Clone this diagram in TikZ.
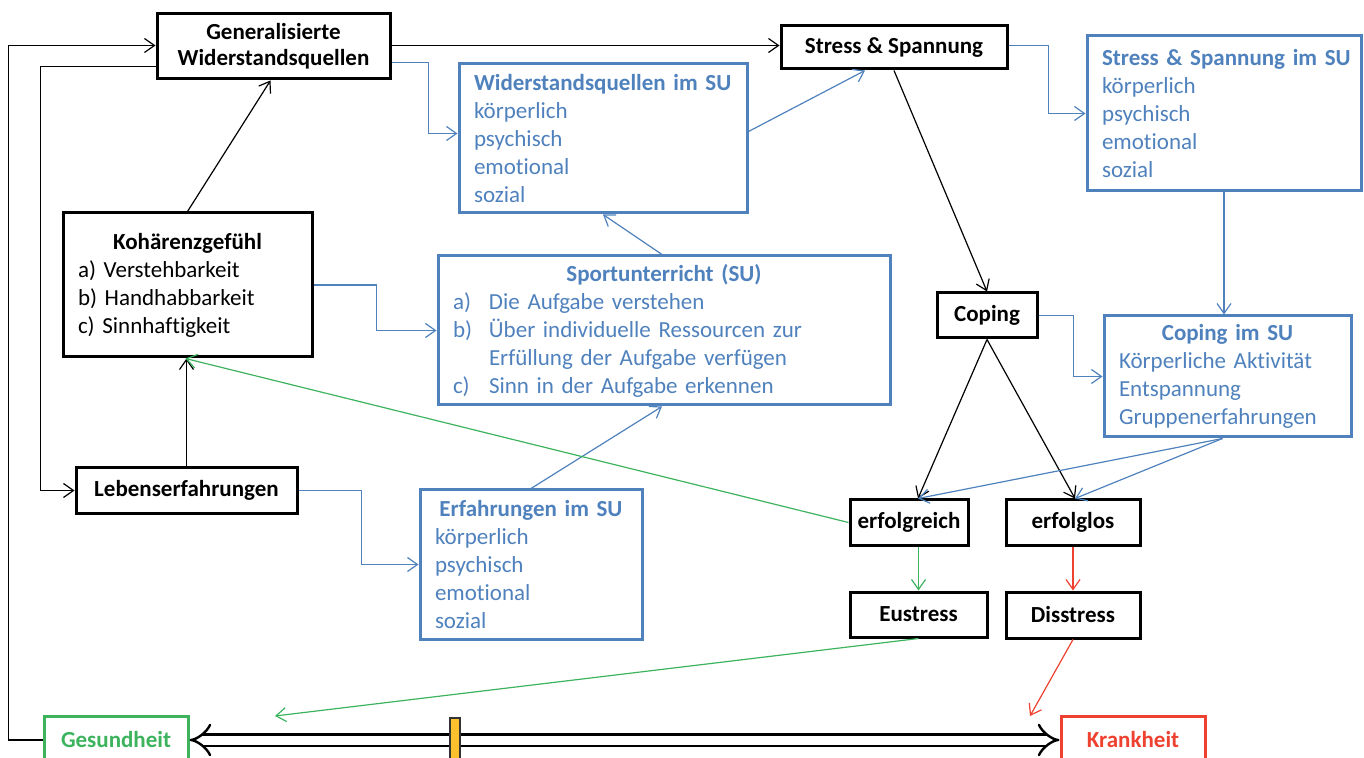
\documentclass[tikz,border=0pt]{standalone}
\usepackage{fontspec}
\setmainfont{Carlito}[Ligatures=NoCommon]
\usetikzlibrary{calc,arrows.meta}
\definecolor{suBlue}{HTML}{4F81BD}
\definecolor{gesGreen}{HTML}{3DB35E}
\definecolor{kraRed}{HTML}{EE4130}
\definecolor{regYellow}{HTML}{FBC02D}
\tikzset{
	>={Straight Barb[length=5pt,width=7pt]},
	kasten/.style={draw,line width=1.5pt,rectangle,inner sep=0pt,align=center,font=\fontsize{11.5}{13}\selectfont\bfseries},
	sukasten/.style={draw=suBlue,text=suBlue,line width=1.5pt,rectangle,inner xsep=7.5pt,inner ysep=0pt,align=left},
	pfeil/.style={->,line width=0.6pt},
	supfeil/.style={->,line width=0.6pt,draw=suBlue},
}

\begin{document}
\begin{tikzpicture}[x=0.5pt,y=-0.5pt,font=\fontsize{11.5}{14}\selectfont]
\useasboundingbox (0,0) rectangle (1364,758);
\clip (0,0) rectangle (1364,758);

\node[kasten,minimum width=116.5pt,minimum height=32.5pt] (gw) at (273.5,46.5) {Generalisierte\\Widerstandsquellen};
\node[kasten,minimum width=113pt,minimum height=21.5pt] (stress) at (894,47.5) {Stress \& Spannung};
\node[kasten,minimum width=50pt,minimum height=22.5pt] (coping) at (987,315.5) {Coping};
\node[kasten,minimum width=110.5pt,minimum height=22.5pt] (leb) at (186.5,490.5) {Lebenserfahrungen};
\node[kasten,minimum width=59pt,minimum height=22.5pt] (erfg) at (909,522.5) {erfolgreich};
\node[kasten,minimum width=67pt,minimum height=22.5pt] (erfl) at (1073,522.5) {erfolglos};
\node[kasten,minimum width=68.5pt,minimum height=22.5pt] (eu) at (918.5,614.5) {Eustress};
\node[kasten,minimum width=67pt,minimum height=23pt] (dis) at (1073,615) {Disstress};
\node[kasten,draw=gesGreen,text=gesGreen,minimum width=72pt,minimum height=24pt] (ges) at (116,740) {Gesundheit};
\node[kasten,draw=kraRed,text=kraRed,minimum width=72pt,minimum height=24pt] (krank) at (1133,740) {Krankheit};

\node[kasten,font=\fontsize{11.5}{14}\selectfont,align=left,text width=109.5pt,minimum width=124.5pt,minimum height=72pt] (koh) at (187.5,285)
	{\makebox[\linewidth]{\bfseries Koh\"arenzgef\"uhl}\\a) Verstehbarkeit\\b) Handhabbarkeit\\c) Sinnhaftigkeit};

\node[sukasten,text width=129pt,minimum width=144pt,minimum height=74.5pt] (wsu) at (603,138.5)
	{\mbox{\bfseries Widerstandsquellen im SU}\\k\"orperlich\\psychisch\\emotional\\sozial};
\node[sukasten,text width=122pt,minimum width=136pt,minimum height=77.5pt] (ssu) at (1224,113.5)
	{\mbox{\bfseries Stress \& Spannung im SU}\\k\"orperlich\\psychisch\\emotional\\sozial};
\node[sukasten,text width=211pt,minimum width=226pt,minimum height=74.5pt] (su) at (664,330.5)
	{\makebox[\linewidth]{\bfseries Sportunterricht (SU)}\\
	\makebox[18pt][l]{a)}Die Aufgabe verstehen\\
	\makebox[18pt][l]{b)}\"Uber individuelle Ressourcen zur\\
	\hspace*{18pt}Erf\"ullung der Aufgabe verf\"ugen\\
	\makebox[18pt][l]{c)}Sinn in der Aufgabe erkennen};
\node[sukasten,text width=108.5pt,minimum width=122.5pt,minimum height=60.5pt] (csu) at (1227.5,376.5)
	{\makebox[\linewidth]{\bfseries Coping im SU}\\K\"orperliche Aktivit\"at\\Entspannung\\Gruppenerfahrungen};
\node[sukasten,text width=96pt,minimum width=110pt,minimum height=74.5pt] (esu) at (531,564.5)
	{\makebox[\linewidth]{\bfseries Erfahrungen im SU}\\k\"orperlich\\psychisch\\emotional\\sozial};

\coordinate (gesziel) at (275,716);
\coordinate (krankziel) at (1030,716);

\draw[pfeil] (ges.west) -- ++(-34,0) |- ($(gw.west)+(0,-1)$);
\draw[pfeil] ($(gw.west)+(0,20)$) -- ++(-115,0) |- (leb.west);
\draw[pfeil] ($(gw.east)+(0,-1)$) -- ($(stress.west)+(0,-2)$);
\draw[pfeil] (koh.north) -- ($(gw.south)+(-3,0)$);
\draw[pfeil] (leb.north) -- (leb.north |- koh.south);
\draw[pfeil] (stress.south) -- (coping.north);
\draw[pfeil] (coping.south) -- ($(erfg.north)+(9,0)$);
\draw[pfeil] (coping.south) -- ($(erfl.north)+(2,0)$);

\draw[supfeil] ($(gw.east)+(0,16)$) -- ++(37,0) |- ($(wsu.west)+(0,-5)$);
\draw[supfeil] ($(wsu.east)+(0,-7)$) -- ($(stress.south)+(-29,0)$);
\draw[supfeil] ($(stress.east)+(0,-2)$) -- ++(40,0) |- (ssu.west);
\draw[supfeil] (ssu.south) -- (ssu.south |- csu.north);
\draw[supfeil] (coping.east) -- ++(35,0) |- (csu.west);
\draw[supfeil] ($(csu.south)+(-5,0)$) -- ($(erfg.north)+(9,0)$);
\draw[supfeil] ($(csu.south)+(-5,0)$) -- ($(erfl.north)+(2,0)$);
\draw[supfeil] (koh.east) -- ++(63,0) |- (su.west);
\draw[supfeil] ($(su.north)+(-2,0)$) -- (wsu.south);
\draw[supfeil] (leb.east) -- ++(63,0) |- (esu.west);
\draw[supfeil] (esu.north) -- ($(su.south)+(-2,0)$);

\draw[pfeil,gesGreen] (erfg.west) -- ($(koh.south)+(-2,0)$);
\draw[pfeil,gesGreen] (eu.north |- erfg.south) -- (eu.north);
\draw[pfeil,gesGreen] (eu.south) -- (gesziel);
\draw[pfeil,kraRed] (erfl.south) -- (dis.north);
\draw[pfeil,kraRed] (dis.south) -- (krankziel);

\draw[line width=1.2pt,double,double distance=4.5pt,{Implies}-{Implies}] (ges.east) -- (krank.west);
\node[draw=black!80,fill=regYellow,line width=0.6pt,minimum width=5pt,minimum height=21pt,inner sep=0pt] (regler) at (455,739) {};
\end{tikzpicture}
\end{document}
